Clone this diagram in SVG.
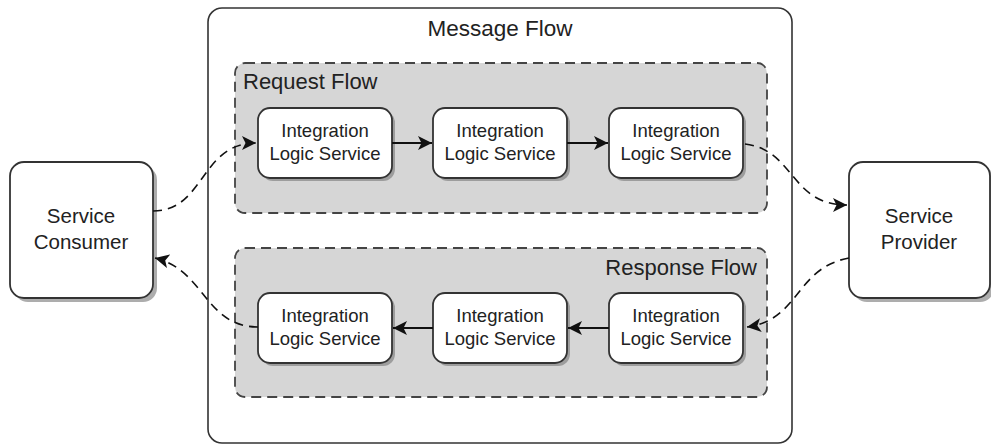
<svg xmlns="http://www.w3.org/2000/svg" width="991" height="445" viewBox="0 0 991 445">
<style>
text{font-family:"Liberation Sans",Arial,sans-serif;fill:#222}
.node{fill:#fff;stroke:#333;stroke-width:1.8}
.shadow{fill:#777;opacity:0.6}
.flow{fill:#d6d6d6;stroke:#444;stroke-width:1.8;stroke-dasharray:10,6}
.ln{font-size:18.5px;text-anchor:middle}
.big{font-size:20.5px;text-anchor:middle}
.solid{fill:none;stroke:#111;stroke-width:1.8}
.dash{fill:none;stroke:#111;stroke-width:1.6;stroke-dasharray:9,6}
</style>
<defs>
<marker id="ah2" viewBox="0 0 10 10" refX="10" refY="5" markerWidth="14" markerHeight="14" markerUnits="userSpaceOnUse" orient="auto">
<path d="M0,0 L10,5 L0,10 L2.5,5 Z" fill="#111"/>
</marker>
</defs>
<rect width="991" height="445" fill="#fff"/>

<g id="message-flow">
<rect x="208" y="8" width="584" height="435" rx="14" fill="#fff" stroke="#333" stroke-width="1.6"/>
<text x="500" y="36" style="font-size:22.5px;text-anchor:middle">Message Flow</text>
</g>

<g id="request-flow">
<rect class="flow" x="235" y="63" width="532" height="150" rx="10"/>
<text x="243" y="89" style="font-size:22px">Request Flow</text>
</g>

<g id="response-flow">
<rect class="flow" x="235" y="248" width="532" height="149" rx="10"/>
<text x="757" y="275" style="font-size:22px;text-anchor:end">Response Flow</text>
</g>

<g id="consumer">
<rect class="shadow" x="14" y="166" width="143" height="136" rx="14"/>
<rect class="node" x="10" y="162" width="143" height="136" rx="14"/>
<text class="big" x="81" y="223">Service</text>
<text class="big" x="81" y="249">Consumer</text>
</g>

<g id="provider">
<rect class="shadow" x="853" y="166" width="141" height="136" rx="14"/>
<rect class="node" x="849" y="162" width="141" height="136" rx="14"/>
<text class="big" x="919" y="223">Service</text>
<text class="big" x="919" y="249">Provider</text>
</g>

<g id="req1">
<rect class="shadow" x="261" y="111" width="134" height="70" rx="12"/>
<rect class="node" x="258" y="108" width="134" height="70" rx="12"/>
<text class="ln" x="325" y="137">Integration</text>
<text class="ln" x="325" y="160">Logic Service</text>
</g>
<g id="req2">
<rect class="shadow" x="436" y="111" width="134" height="70" rx="12"/>
<rect class="node" x="433" y="108" width="134" height="70" rx="12"/>
<text class="ln" x="500" y="137">Integration</text>
<text class="ln" x="500" y="160">Logic Service</text>
</g>
<g id="req3">
<rect class="shadow" x="612" y="111" width="134" height="70" rx="12"/>
<rect class="node" x="609" y="108" width="134" height="70" rx="12"/>
<text class="ln" x="676" y="137">Integration</text>
<text class="ln" x="676" y="160">Logic Service</text>
</g>

<g id="res1">
<rect class="shadow" x="261" y="296" width="134" height="70" rx="12"/>
<rect class="node" x="258" y="293" width="134" height="70" rx="12"/>
<text class="ln" x="325" y="322">Integration</text>
<text class="ln" x="325" y="345">Logic Service</text>
</g>
<g id="res2">
<rect class="shadow" x="436" y="296" width="134" height="70" rx="12"/>
<rect class="node" x="433" y="293" width="134" height="70" rx="12"/>
<text class="ln" x="500" y="322">Integration</text>
<text class="ln" x="500" y="345">Logic Service</text>
</g>
<g id="res3">
<rect class="shadow" x="612" y="296" width="134" height="70" rx="12"/>
<rect class="node" x="609" y="293" width="134" height="70" rx="12"/>
<text class="ln" x="676" y="322">Integration</text>
<text class="ln" x="676" y="345">Logic Service</text>
</g>

<g id="connectors">
<path class="solid" d="M392,143 L432,143" marker-end="url(#ah2)"/>
<path class="solid" d="M567,143 L608,143" marker-end="url(#ah2)"/>
<path class="solid" d="M609,328 L568,328" marker-end="url(#ah2)"/>
<path class="solid" d="M433,328 L393,328" marker-end="url(#ah2)"/>
<path class="dash" d="M153,211 C205,211 200,143 256,143" marker-end="url(#ah2)"/>
<path class="dash" d="M745,144 C795,150 790,205 847,205" marker-end="url(#ah2)"/>
<path class="dash" d="M849,258 C795,268 800,320 747,327" marker-end="url(#ah2)"/>
<path class="dash" d="M258,327 C205,327 205,270 155,258" marker-end="url(#ah2)"/>
</g>
</svg>
